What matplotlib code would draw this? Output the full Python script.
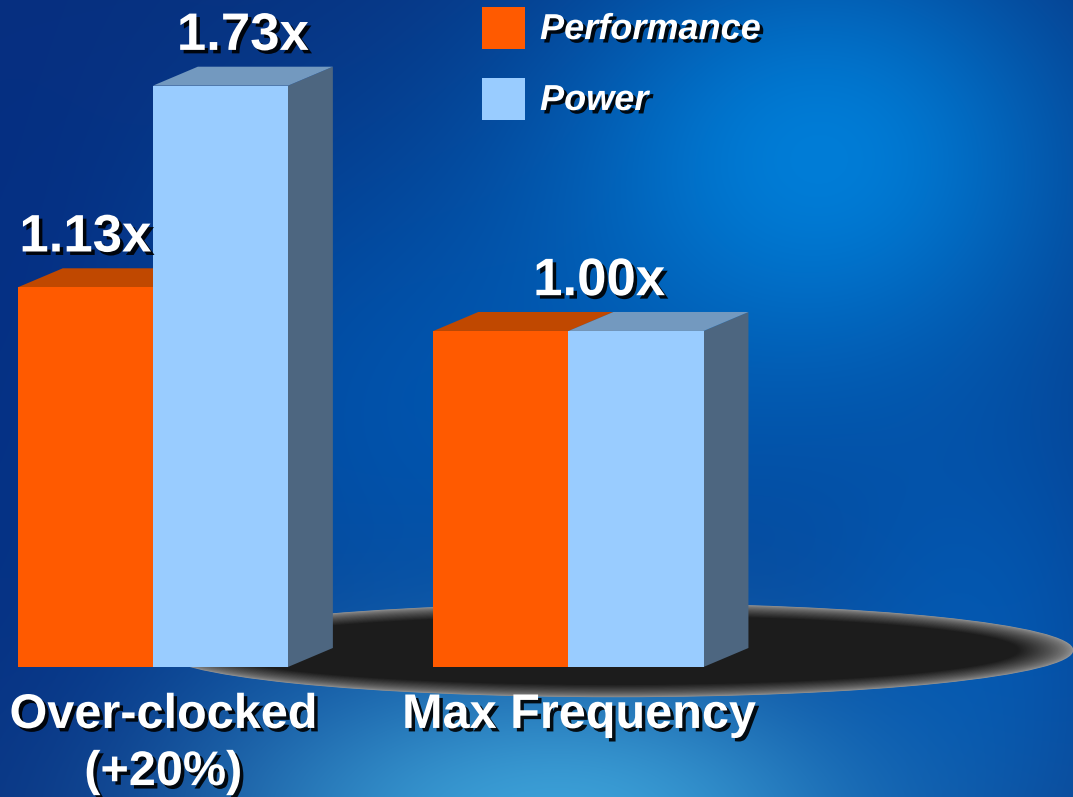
import matplotlib
matplotlib.use('Agg')
import matplotlib.pyplot as plt
import matplotlib.patheffects as pe
from matplotlib.patches import Polygon, Rectangle, Ellipse
import numpy as np

# data
groups = ['Over-clocked\n(+20%)', 'Max Frequency']
series = ['Performance', 'Power']
performance = [1.13, 1.00]
power = [1.73, 1.00]
value_labels = ['1.13x', '1.73x', '1.00x']

# colours: front, top, side
face_cols = {'Performance': ('#FF5A00', '#C04800', '#8A3A10'),
             'Power': ('#99CCFF', '#7399BF', '#4D6680')}

W, H = 1073, 797
fig = plt.figure(figsize=(W / 100, H / 100), dpi=100)
ax = fig.add_axes([0, 0, 1, 1])
xmin, xmax = -0.368, 2.214
ymin, ymax = -0.387, 1.985
ax.set_xlim(xmin, xmax)
ax.set_ylim(ymin, ymax)
ax.axis('off')

# blue backdrop
yy, xx = np.mgrid[0:H, 0:W].astype(float)
img = np.zeros((H, W, 3))
img[:] = np.array([8, 48, 125]) / 255.0


def blend(cx, cy, sx, sy, col, k):
    a = k * np.exp(-(((xx - cx) / sx) ** 2 + ((yy - cy) / sy) ** 2))
    c = np.array(col) / 255.0
    for i in range(3):
        img[:, :, i] = img[:, :, i] * (1 - a) + c[i] * a


blend(450, 420, 420, 300, (0, 85, 175), 0.9)
blend(820, 160, 280, 240, (0, 125, 215), 1.0)
blend(560, 820, 380, 170, (60, 160, 215), 1.0)
blend(980, 620, 200, 260, (0, 105, 200), 0.6)
blend(0, 300, 160, 500, (5, 45, 130), 0.7)
ax.imshow(img, extent=[xmin, xmax, ymin, ymax], aspect='auto', zorder=0)

# floor shadow, gray rim fading to a dark middle
for u in np.linspace(0.0, 1.0, 60):
    g = 0.58 - 0.47 * min(1.0, u / 0.6) ** 0.7
    ax.add_patch(Ellipse((1.115, 0.05), 2.2 * (1 - 0.2 * u), 0.28 * (1 - 0.45 * u),
                         facecolor=(g, g, g), edgecolor='none', zorder=1))

bw = 0.325
dx, dy = 0.108, 0.0565
x = np.arange(len(groups))


def bar3d(xc, h, name, z):
    front, top, side = face_cols[name]
    x0, x1 = xc - bw / 2, xc + bw / 2
    ax.add_patch(Polygon([(x1, 0), (x1 + dx, dy), (x1 + dx, h + dy), (x1, h)],
                         closed=True, facecolor=side, edgecolor='none', zorder=z))
    ax.add_patch(Polygon([(x0, h), (x1, h), (x1 + dx, h + dy), (x0 + dx, h + dy)],
                         closed=True, facecolor=top, edgecolor='none', zorder=z))
    ax.bar(xc, h, bw, color=front, zorder=z + 0.5)


for i in range(len(groups)):
    bar3d(x[i] - bw / 2, performance[i], 'Performance', 2 + i * 2)
    bar3d(x[i] + bw / 2, power[i], 'Power', 3 + i * 2)

shadow = [pe.withSimplePatchShadow(offset=(2.5, -2.5), shadow_rgbFace='black', alpha=0.9)]
font = 'Liberation Sans'

# value labels
lab_x = [x[0] - bw / 2, x[0] + bw / 2 + dx / 2, x[1] + dx / 2 + 0.02]
lab_y = [performance[0], power[0], max(performance[1], power[1])]
for lx, ly, t in zip(lab_x, lab_y, value_labels):
    ax.text(lx, ly + dy + 0.05, t, ha='center', va='baseline', color='white',
            fontsize=38, fontweight='bold', family=font, zorder=10, path_effects=shadow)

# category labels, one text per line
line_step = 0.17
for i, g in enumerate(groups):
    for k, line in enumerate(g.split('\n')):
        ax.text(x[i] + 0.025, -0.1815 - k * line_step, line, ha='center', va='baseline',
                color='white', fontsize=35, fontweight='bold', family=font,
                zorder=10, path_effects=shadow)

# legend
for j, name in enumerate(series):
    yb = [0.9385, 0.8494][j]
    fig.patches.append(Rectangle((0.4492, yb), 0.0401, 0.0527, transform=fig.transFigure,
                                 facecolor=face_cols[name][0], edgecolor='none', zorder=10))
    fig.text(0.5033, [0.951, 0.862][j], name, ha='left', va='baseline', color='white',
             fontsize=26, fontweight='bold', fontstyle='italic', family=font,
             path_effects=shadow)

plt.savefig('out.png', dpi=100)
